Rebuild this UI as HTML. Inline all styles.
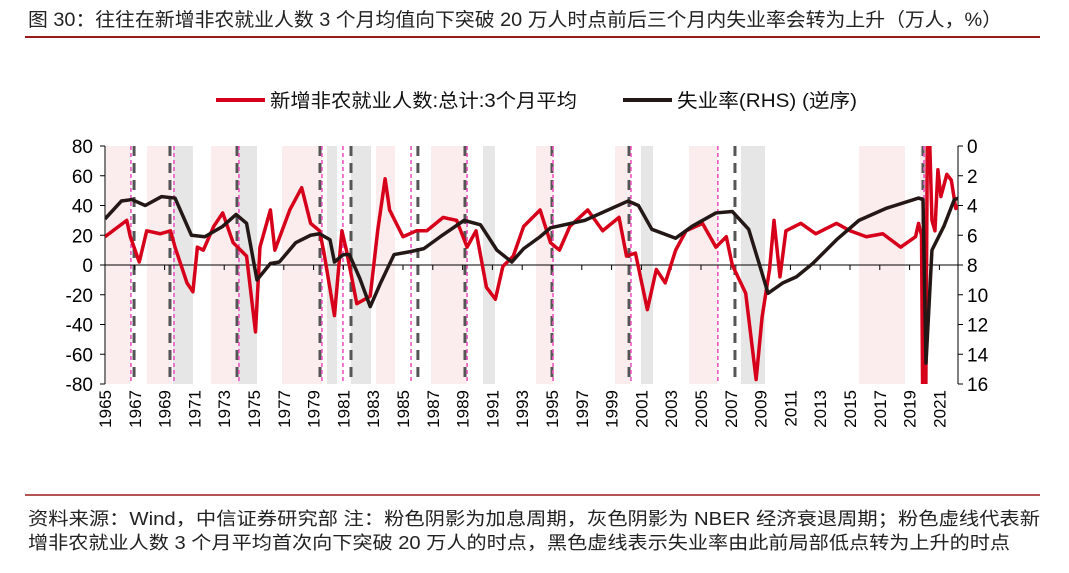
<!DOCTYPE html>
<html><head><meta charset="utf-8">
<style>
body{margin:0;background:#fff;width:1069px;height:568px;overflow:hidden;font-family:"Liberation Sans","Noto Sans CJK SC",sans-serif;}
svg text{font-family:"Liberation Sans","Noto Sans CJK SC",sans-serif;}
</style></head>
<body>
<svg id="c" width="1069" height="568" xmlns="http://www.w3.org/2000/svg">
<text x="28" y="26" font-size="19" textLength="974" lengthAdjust="spacingAndGlyphs" fill="#222">图 30：往往在新增非农就业人数 3 个月均值向下突破 20 万人时点前后三个月内失业率会转为上升（万人，%）</text>
<line x1="25" y1="37" x2="1040" y2="37" stroke="#9b1b1b" stroke-width="2"/>
<g>
<line x1="216" y1="100" x2="265" y2="100" stroke="#d7001a" stroke-width="4"/>
<text x="270" y="107" font-size="19" textLength="307" lengthAdjust="spacingAndGlyphs" fill="#111">新增非农就业人数:总计:3个月平均</text>
<line x1="623" y1="100" x2="672" y2="100" stroke="#231815" stroke-width="4"/>
<text x="677" y="107" font-size="19" textLength="180" lengthAdjust="spacingAndGlyphs" fill="#111">失业率(RHS) (逆序)</text>
</g>
<g id="plot"></g>
<line x1="25" y1="495" x2="1040" y2="495" stroke="#9b1b1b" stroke-width="1.5"/>
<text x="28" y="525" font-size="18" textLength="1012" lengthAdjust="spacingAndGlyphs" fill="#222">资料来源：Wind，中信证券研究部  注：粉色阴影为加息周期，灰色阴影为 NBER 经济衰退周期；粉色虚线代表新</text>
<text x="28" y="549" font-size="18" textLength="982" lengthAdjust="spacingAndGlyphs" fill="#222">增非农就业人数 3 个月平均首次向下突破 20 万人的时点，黑色虚线表示失业率由此前局部低点转为上升的时点</text>
</svg>
<script>
const payYears=[1965.0,1966.46,1966.7,1967.3,1967.8,1968.7,1969.4,1969.7,1970.5,1970.9,1971.2,1971.6,1972.3,1972.9,1973.6,1974.1,1974.5,1975.1,1975.4,1976.1,1976.4,1977.4,1978.2,1978.8,1979.4,1979.7,1980.4,1980.9,1981.2,1981.9,1982.8,1983.3,1983.8,1984.1,1985.0,1985.9,1986.6,1987.7,1988.6,1989.3,1989.9,1990.6,1991.2,1991.7,1992.4,1993.1,1994.2,1994.9,1995.5,1996.2,1997.4,1998.4,1999.5,2000.0,2000.6,2001.4,2002.0,2002.6,2003.3,2004.0,2005.1,2006.0,2006.7,2007.1,2008.0,2008.7,2009.1,2009.6,2009.9,2010.3,2010.7,2011.7,2012.7,2014.1,2015.0,2016.1,2017.2,2018.4,2019.4,2019.6,2019.8,2019.92,2020.05,2020.2,2020.3,2020.5,2020.7,2020.9,2021.1,2021.5,2021.8,2022.1,2022.25];
const payValues=[19,30,19,2,23,21,23,12,-12,-18,12,10,26,35,15,10,6,-45,12,37,10,37,52,28,23,8,-34,23,10,-26,-21,23,58,37,19,23,23,32,30,12,23,-15,-23,-1,6,26,37,15,10,26,37,23,32,6,8,-30,-3,-12,10,23,28,12,19,0,-19,-77,-35,-3,30,-8,23,28,21,28,23,19,21,12,19,28,20,-140,-140,100,100,30,23,64,46,61,57,38,40];
const unYears=[1965.0,1966.1,1966.8,1967.7,1968.8,1969.7,1970.8,1971.7,1972.9,1973.8,1974.5,1975.2,1976.1,1976.7,1977.8,1978.8,1979.4,1980.1,1980.4,1981.0,1981.4,1982.1,1982.8,1983.5,1984.4,1985.5,1986.4,1987.5,1989.1,1990.2,1991.3,1992.3,1993.1,1994.2,1994.9,1997.2,2000.1,2000.8,2001.7,2003.3,2004.4,2006.0,2007.1,2008.2,2008.9,2009.5,2010.5,2011.4,2012.5,2014.1,2015.6,2017.4,2019.6,2019.9,2020.1,2020.5,2021.3,2022.0,2022.3];
const unValues=[4.9,3.7,3.6,4.0,3.4,3.5,6.0,6.1,5.4,4.6,5.2,9.0,7.9,7.8,6.5,6.0,5.9,6.3,7.8,7.3,7.3,8.9,10.8,9.2,7.3,7.1,6.9,6.1,5.0,5.3,7.0,7.8,6.9,6.1,5.5,5.0,3.7,4.0,5.6,6.2,5.4,4.5,4.4,5.6,7.9,9.9,9.2,8.8,7.9,6.3,5.0,4.2,3.5,3.6,14.6,7.0,5.4,3.6,3.5];
const hikePeriods=[[1965.07,1966.74],[1967.82,1969.5],[1972.11,1973.93],[1976.88,1979.56],[1983.19,1984.46],[1986.88,1989.3],[1993.93,1995.07],[1999.23,2000.24],[2004.19,2006.13],[2015.6,2018.69],[2019.7,2020.23]];
const recessions=[[1969.56,1970.9],[1973.93,1975.2],[1979.9,1980.57],[1981.5,1982.85],[1990.37,1991.17],[2000.97,2001.78],[2007.68,2009.3],[2019.9,2020.23]];
const payBreakDates=[1966.74,1969.63,1973.99,1979.56,1980.97,1985.54,1989.3,1995.07,2000.3,2006.13,2019.97];
const unTurnDates=[1966.95,1969.36,1973.86,1979.43,1981.51,1986.0,1989.16,1995.0,2000.17,2007.28,2019.9];
const leftTicks=[80,60,40,20,0,-20,-40,-60,-80];
const rightTicks=[0,2,4,6,8,10,12,14,16];
const yearTicks=[];for(let y=1965;y<=2021;y+=2)yearTicks.push(y);

const NS="http://www.w3.org/2000/svg";
const X0=105,X1=958,YT=146,YB=384;
const xS=y=>X0+(y-1965)*14.9;
const yL=v=>YT+(80-v)/160*(YB-YT);
const yR=v=>YT+v/16*(YB-YT);
const plot=document.getElementById('plot');
function mk(tag,attrs,parent){const e=document.createElementNS(NS,tag);for(const k in attrs)e.setAttribute(k,attrs[k]);(parent||plot).appendChild(e);return e;}
const defs=mk('defs',{});const cp=mk('clipPath',{id:'clip'},defs);mk('rect',{x:X0,y:YT,width:X1-X0,height:YB-YT},cp);

hikePeriods.forEach(p=>{const r=mk('rect',{x:xS(p[0]),y:YT,width:xS(p[1])-xS(p[0]),height:YB-YT,fill:'#fbecee'});

});
recessions.forEach(p=>{const r=mk('rect',{x:xS(p[0]),y:YT,width:xS(p[1])-xS(p[0]),height:YB-YT,fill:'#e6e6e6'});

});
unTurnDates.forEach(d=>{const l=mk('line',{x1:xS(d),x2:xS(d),y1:YT,y2:YB,stroke:'#555',"stroke-width":3,"stroke-dasharray":"10,7"});

});
payBreakDates.forEach(d=>{const l=mk('line',{x1:xS(d),x2:xS(d),y1:YT,y2:YB,stroke:'#ee55c0',"stroke-width":1.6,"stroke-dasharray":"4,3"});

});

const zl=mk('line',{x1:X0,x2:X1,y1:yL(0),y2:yL(0),stroke:'#000',"stroke-width":1});


const la=mk('line',{x1:X0,x2:X0,y1:YT,y2:YB,stroke:'#000'});


const ra=mk('line',{x1:X1,x2:X1,y1:YT,y2:YB,stroke:'#000'});


leftTicks.forEach(v=>{mk('line',{x1:X0-5,x2:X0,y1:yL(v),y2:yL(v),stroke:'#000'});
const t=mk('text',{x:X0-12,y:yL(v)+7,"font-size":19,"text-anchor":"end",fill:'#000'});t.textContent=v;

});
rightTicks.forEach(v=>{mk('line',{x1:X1,x2:X1+5,y1:yR(v),y2:yR(v),stroke:'#000'});
const t=mk('text',{x:X1+9,y:yR(v)+7,"font-size":19,fill:'#000'});t.textContent=v;

});
yearTicks.forEach(y=>{const x=xS(y);mk('line',{x1:x,x2:x,y1:yL(0),y2:yL(0)+5,stroke:'#000'});
const t=mk('text',{x:0,y:0,"font-size":17,"text-anchor":"end",fill:'#000',transform:`translate(${x+6},${YB+6}) rotate(-90)`});t.textContent=y;

});

const g=mk('g',{"clip-path":"url(#clip)"});
const pr=mk('polyline',{points:payYears.map((y,i)=>xS(y)+','+yL(payValues[i])).join(' '),fill:'none',stroke:'#d7001a',"stroke-width":3.5,"stroke-linejoin":"round"},g);


const ur=mk('polyline',{points:unYears.map((y,i)=>xS(y)+','+yR(unValues[i])).join(' '),fill:'none',stroke:'#231815',"stroke-width":3.5,"stroke-linejoin":"round"},g);


</script>
</body></html>
